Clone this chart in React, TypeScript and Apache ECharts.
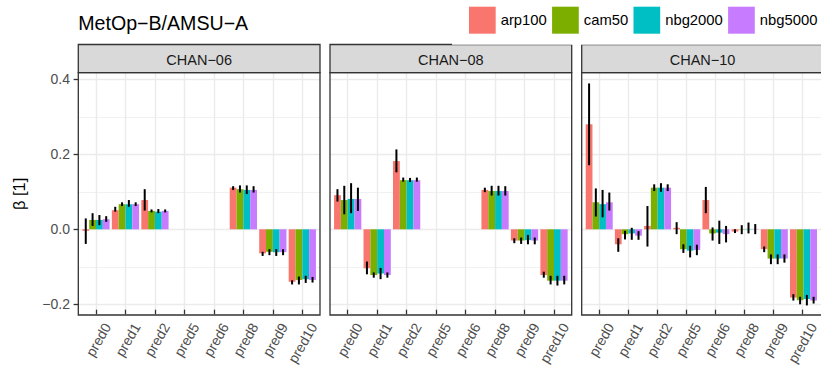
import React, { useEffect, useRef } from 'react';
import * as echarts from 'echarts';

// ---- labels ----
const plotTitle = 'MetOp−B/AMSU−A';
const yAxisTitle = 'β [1]';
const channels = ['CHAN−06', 'CHAN−08', 'CHAN−10'];
const predictors = ['pred0', 'pred1', 'pred2', 'pred5', 'pred6', 'pred8', 'pred9', 'pred10'];
const models = ['arp100', 'cam50', 'nbg2000', 'nbg5000'];
const modelColors = ['#F8766D', '#7CAE00', '#00BFC4', '#C77CFF'];
const yTickMin = -0.2;
const yTickMax = 0.4;
const yTickStep = 0.2;

type Row = (number | null)[];
const n = null;

// ---- coefficients: rows = models, columns = predictors ----
const chan06Mean: Row[] = [
  [-0.004, 0.051, 0.078, n, n, 0.111, -0.064, -0.140],
  [0.025, 0.067, 0.049, n, n, 0.107, -0.060, -0.135],
  [0.025, 0.067, 0.047, n, n, 0.105, -0.061, -0.133],
  [0.027, 0.067, 0.049, n, n, 0.105, -0.061, -0.135],
];
const chan06Lower: Row[] = [
  [-0.039, 0.047, 0.050, n, n, 0.105, -0.071, -0.147],
  [0.009, 0.062, 0.045, n, n, 0.098, -0.069, -0.147],
  [0.011, 0.060, 0.043, n, n, 0.094, -0.071, -0.143],
  [0.020, 0.062, 0.045, n, n, 0.098, -0.069, -0.142],
];
const chan06Upper: Row[] = [
  [0.029, 0.060, 0.107, n, n, 0.115, -0.060, -0.136],
  [0.043, 0.072, 0.053, n, n, 0.117, -0.053, -0.126],
  [0.038, 0.078, 0.054, n, n, 0.117, -0.053, -0.124],
  [0.035, 0.072, 0.053, n, n, 0.115, -0.053, -0.127],
];

const chan08Mean: Row[] = [
  [0.091, -0.104, 0.182, n, n, 0.105, -0.030, -0.122],
  [0.078, -0.122, 0.131, n, n, 0.102, -0.030, -0.137],
  [0.081, -0.118, 0.131, n, n, 0.102, -0.029, -0.137],
  [0.081, -0.122, 0.131, n, n, 0.102, -0.030, -0.137],
];
const chan08Lower: Row[] = [
  [0.074, -0.120, 0.152, n, n, 0.099, -0.037, -0.129],
  [0.040, -0.129, 0.127, n, n, 0.090, -0.039, -0.147],
  [0.043, -0.133, 0.126, n, n, 0.090, -0.040, -0.150],
  [0.049, -0.129, 0.127, n, n, 0.090, -0.040, -0.147],
];
const chan08Upper: Row[] = [
  [0.107, -0.086, 0.213, n, n, 0.111, -0.024, -0.113],
  [0.116, -0.115, 0.138, n, n, 0.116, -0.022, -0.124],
  [0.123, -0.103, 0.137, n, n, 0.116, -0.015, -0.124],
  [0.111, -0.115, 0.138, n, n, 0.115, -0.022, -0.124],
];

const chan10Mean: Row[] = [
  [0.280, -0.040, 0.009, 0.004, 0.078, -0.006, -0.053, -0.182],
  [0.072, -0.013, 0.111, -0.053, -0.011, -0.001, -0.078, -0.189],
  [0.067, -0.011, 0.111, -0.057, -0.009, 0.001, -0.078, -0.186],
  [0.072, -0.017, 0.111, -0.055, -0.013, 0.001, -0.078, -0.190],
];
const chan10Lower: Row[] = [
  [0.171, -0.060, -0.046, -0.013, 0.043, -0.010, -0.061, -0.190],
  [0.034, -0.027, 0.102, -0.063, -0.030, -0.013, -0.093, -0.200],
  [0.032, -0.028, 0.100, -0.075, -0.039, -0.011, -0.093, -0.203],
  [0.050, -0.028, 0.102, -0.069, -0.035, -0.013, -0.089, -0.198],
];
const chan10Upper: Row[] = [
  [0.389, -0.024, 0.062, 0.019, 0.113, 0.000, -0.046, -0.173],
  [0.109, -0.004, 0.120, -0.040, 0.005, 0.011, -0.067, -0.180],
  [0.105, 0.004, 0.123, -0.044, 0.023, 0.018, -0.067, -0.175],
  [0.098, -0.005, 0.120, -0.041, 0.009, 0.014, -0.067, -0.180],
];

const panelMeans = [chan06Mean, chan08Mean, chan10Mean];
const panelLowers = [chan06Lower, chan08Lower, chan10Lower];
const panelUppers = [chan06Upper, chan08Upper, chan10Upper];

// ---- layout ----
const FONT = '"Liberation Sans", Arial, Helvetica, sans-serif';
const WIDTH = 821;
const HEIGHT = 368;
const PANEL_LEFTS = [78.3, 330.0, 581.7];
const PANEL_W = 241.7;
const STRIP_TOP = 44.5;
const PANEL_TOP = 72.7;
const PANEL_BOTTOM = 315;
const DATA_TOP = 79.3; // pixel row of yTickMax
const DATA_BOTTOM = 304.3; // pixel row of yTickMin

// The discrete x scale is laid out on a fine slot grid: 5 slots per category,
// 3 slots of padding on each side (0.6 category widths).
const SLOTS_PER_CAT = 5;
const LEAD_SLOTS = 3;
const SLOT_COUNT = LEAD_SLOTS * 2 + SLOTS_PER_CAT * (predictors.length - 1) + 1;
const slotNames = Array.from({ length: SLOT_COUNT }, (_, k) => {
  const c = (k - LEAD_SLOTS) / SLOTS_PER_CAT;
  return k >= LEAD_SLOTS && Number.isInteger(c) && c < predictors.length ? predictors[c] : `\u200b${k}`;
});
const isCatSlot = (k: number) => k >= LEAD_SLOTS && (k - LEAD_SLOTS) % SLOTS_PER_CAT === 0;
const slotOf = (c: number) => LEAD_SLOTS + c * SLOTS_PER_CAT;
const DODGE = 0.925;

const GRID_LINE = '#EBEBEB';
const DARK = '#333333';

function buildOption() {
  const grid: any[] = [];
  const xAxis: any[] = [];
  const yAxis: any[] = [];
  const series: any[] = [];
  const graphic: any[] = [];

  PANEL_LEFTS.forEach((left, p) => {
    // frame grid: vertical grid lines, x ticks and labels
    grid.push({ left, top: PANEL_TOP, width: PANEL_W, height: PANEL_BOTTOM - PANEL_TOP });
    // data grid: value scale, horizontal grid lines
    grid.push({ left, top: DATA_TOP, width: PANEL_W, height: DATA_BOTTOM - DATA_TOP });

    xAxis.push({
      gridIndex: 2 * p,
      type: 'category',
      data: slotNames,
      boundaryGap: false,
      axisLine: { show: false },
      axisTick: {
        show: true,
        interval: (i: number) => isCatSlot(i),
        length: 4.7,
        lineStyle: { color: DARK, width: 1.3 },
      },
      axisLabel: {
        interval: (i: number) => isCatSlot(i),
        rotate: 60,
        margin: 8,
        align: 'right',
        verticalAlign: 'top',
        padding: [6, 0, 0, 0],
        color: '#4D4D4D',
        fontSize: 14,
        fontFamily: FONT,
      },
      splitLine: {
        show: true,
        interval: (i: number) => isCatSlot(i),
        lineStyle: { color: GRID_LINE, width: 1.4 },
      },
    });
    xAxis.push({
      gridIndex: 2 * p + 1,
      type: 'category',
      data: slotNames,
      boundaryGap: false,
      show: false,
    });

    yAxis.push({ gridIndex: 2 * p, type: 'value', min: 0, max: 1, show: false });
    yAxis.push({
      gridIndex: 2 * p + 1,
      type: 'value',
      min: yTickMin,
      max: yTickMax,
      interval: yTickStep,
      axisLine: { show: false },
      axisTick: { show: p === 0, length: 4.7, lineStyle: { color: DARK, width: 1.3 } },
      axisLabel: {
        show: p === 0,
        margin: 8.3,
        color: '#4D4D4D',
        fontSize: 14,
        fontFamily: FONT,
        formatter: (v: number) => v.toFixed(1).replace('-', '−'),
      },
      splitLine: { show: true, lineStyle: { color: GRID_LINE, width: 1.4 } },
      minorTick: { show: false, splitNumber: 2 },
      minorSplitLine: { show: true, lineStyle: { color: GRID_LINE, width: 0.7 } },
    });

    const means = panelMeans[p];
    const lowers = panelLowers[p];
    const uppers = panelUppers[p];
    const axisIdx = 2 * p + 1;

    models.forEach((model, m) => {
      const data: number[][] = [];
      means[m].forEach((v, c) => {
        if (v !== null) data.push([slotOf(c), v]);
      });
      series.push({
        type: 'custom',
        name: model,
        xAxisIndex: axisIdx,
        yAxisIndex: axisIdx,
        itemStyle: { color: modelColors[m] },
        encode: { x: 0, y: 1 },
        clip: false,
        silent: true,
        z: 2,
        data,
        renderItem: (_params: any, api: any) => {
          const slot = api.value(0);
          const v = api.value(1);
          const base = api.coord([slot, 0]);
          const tip = api.coord([slot, v]);
          const unit = api.coord([slotOf(1), 0])[0] - api.coord([slotOf(0), 0])[0];
          const w = (unit * DODGE) / models.length;
          const x0 = base[0] - (unit * DODGE) / 2 + m * w;
          return {
            type: 'rect',
            shape: { x: x0, y: Math.min(base[1], tip[1]), width: w, height: Math.abs(tip[1] - base[1]) },
            style: { fill: modelColors[m] },
          };
        },
      });
    });

    const errData: number[][] = [];
    models.forEach((_model, m) => {
      lowers[m].forEach((lo, c) => {
        const hi = uppers[m][c];
        if (lo !== null && hi !== null) errData.push([slotOf(c), lo, hi, m]);
      });
    });
    series.push({
      type: 'custom',
      name: 'interval',
      xAxisIndex: axisIdx,
      yAxisIndex: axisIdx,
      encode: { x: 0, y: [1, 2] },
      clip: false,
      silent: true,
      z: 3,
      data: errData,
      renderItem: (_params: any, api: any) => {
        const slot = api.value(0);
        const m = api.value(3);
        const lo = api.coord([slot, api.value(1)]);
        const hi = api.coord([slot, api.value(2)]);
        const unit = api.coord([slotOf(1), 0])[0] - api.coord([slotOf(0), 0])[0];
        const w = (unit * DODGE) / models.length;
        const xc = lo[0] - (unit * DODGE) / 2 + (m + 0.5) * w;
        return {
          type: 'line',
          shape: { x1: xc, y1: lo[1], x2: xc, y2: hi[1] },
          style: { stroke: '#000000', lineWidth: 2 },
        };
      },
    });

    // facet strip and panel frame
    graphic.push({
      type: 'rect',
      z: 5,
      shape: { x: left, y: STRIP_TOP, width: PANEL_W, height: PANEL_TOP - STRIP_TOP },
      style: { fill: '#D9D9D9', stroke: DARK, lineWidth: 1.3 },
    });
    graphic.push({
      type: 'text',
      z: 6,
      x: left + PANEL_W / 2,
      y: 59.5,
      style: {
        text: channels[p],
        fill: '#1A1A1A',
        fontSize: 14.5,
        fontFamily: FONT,
        align: 'center',
        verticalAlign: 'middle',
      },
    });
    graphic.push({
      type: 'rect',
      z: 5,
      shape: { x: left, y: PANEL_TOP, width: PANEL_W, height: PANEL_BOTTOM - PANEL_TOP },
      style: { fill: 'rgba(0,0,0,0)', stroke: DARK, lineWidth: 1.3 },
    });
  });

  // legend box background
  graphic.push({
    type: 'rect',
    z: 7,
    shape: { x: 452, y: 0, width: WIDTH - 452, height: 44.7 },
    style: { fill: '#ffffff' },
  });
  // y axis title
  graphic.push({
    type: 'text',
    z: 6,
    x: 18.5,
    y: (PANEL_TOP + PANEL_BOTTOM) / 2,
    rotation: Math.PI / 2,
    style: {
      text: yAxisTitle,
      fill: '#000000',
      fontSize: 16.5,
      fontFamily: FONT,
      align: 'center',
      verticalAlign: 'middle',
    },
  });

  return {
    animation: false,
    backgroundColor: '#ffffff',
    textStyle: { fontFamily: FONT },
    title: {
      text: plotTitle,
      left: 78.3,
      top: 13.3,
      padding: 0,
      textStyle: { fontSize: 19.6, fontWeight: 'normal', color: '#000000', fontFamily: FONT },
    },
    legend: {
      data: models,
      left: 469,
      top: 6.7,
      padding: 0,
      itemWidth: 26.7,
      itemHeight: 27,
      itemGap: 5.3,
      icon: 'rect',
      selectedMode: false,
      z: 8,
      textStyle: { fontSize: 14.8, color: '#000000', fontFamily: FONT },
    },
    grid,
    xAxis,
    yAxis,
    series,
    graphic,
  };
}

export default function App() {
  const ref = useRef<HTMLDivElement>(null);
  useEffect(() => {
    if (!ref.current) return;
    const chart = echarts.init(ref.current, undefined, { renderer: 'svg' });
    chart.setOption(buildOption() as any);
    return () => chart.dispose();
  }, []);
  return (
    <div
      ref={ref}
      style={{ position: 'absolute', left: 0, top: 0, width: WIDTH, height: HEIGHT }}
    />
  );
}
